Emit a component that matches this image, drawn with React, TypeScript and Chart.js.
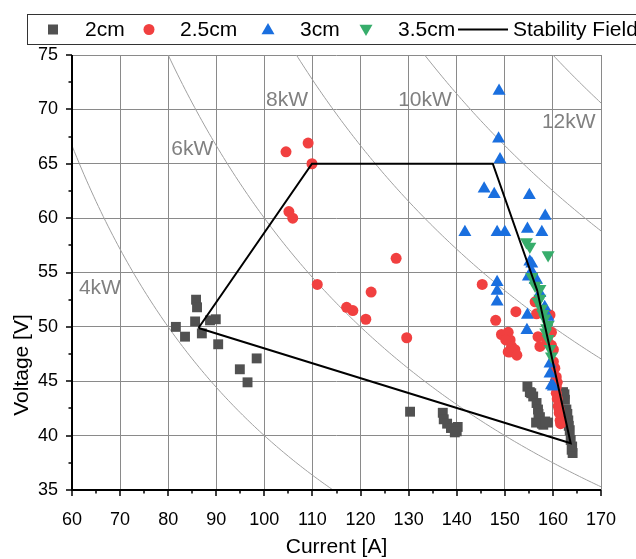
import React, { useEffect, useRef } from "react";
import { Chart, registerables } from "chart.js";
Chart.register(...registerables);

const FONT = "'Liberation Sans', Arial, Helvetica, sans-serif";

// 2cm (gray squares)
const cm2I = [85.8, 86.0, 85.6, 81.6, 83.5, 87.0, 88.7, 89.9, 90.4, 98.4, 94.9, 96.5,
  130.3, 137.1, 137.3, 138.0, 138.8, 139.6, 140.2, 140.0,
  154.7, 155.2, 155.9, 156.6, 156.9, 157.3, 157.7, 158.0, 156.5, 159.0, 155.5, 157.0, 158.4,
  162.1, 162.5, 162.8, 163.2, 163.5, 163.7, 163.9, 164.1, 162.4, 163.0, 163.3, 164.0];
const cm2V = [52.5, 51.8, 50.5, 50.0, 49.1, 49.4, 50.6, 50.7, 48.4, 47.1, 46.1, 44.9,
  42.2, 42.1, 41.5, 41.1, 40.7, 40.3, 40.8, 40.4,
  44.5, 44.0, 43.6, 43.0, 42.4, 41.7, 41.1, 41.0, 41.2, 41.2, 43.9, 42.0, 41.3,
  44.0, 43.3, 42.4, 41.4, 40.5, 39.6, 38.7, 38.4, 43.8, 42.0, 40.9, 39.0];

// 2.5cm (red circles)
const cm25I = [104.5, 109.1, 109.9, 105.1, 105.9, 111.0, 127.4, 122.2, 117.1, 118.4, 121.1, 129.6,
  145.3, 148.1, 149.3, 150.7, 152.3, 150.7, 151.1, 151.4, 151.1, 152.1, 152.5, 150.2,
  156.3, 156.6, 156.9, 157.3, 158.7, 160.1, 159.4, 159.7, 159.7, 160.1, 160.7, 160.7, 160.7,
  161.1, 161.5, 161.6, 160.9, 161.3, 160.4, 160.9, 161.3, 160.5];
const cm25V = [66.1, 66.9, 65.0, 60.6, 60.0, 53.9, 56.3, 53.2, 51.8, 51.5, 50.7, 49.0,
  53.9, 50.6, 49.3, 47.7, 51.4, 49.5, 48.8, 48.2, 47.7, 47.9, 47.4, 48.8,
  52.3, 51.2, 49.1, 48.2, 48.8, 47.9, 51.1, 49.5, 48.3, 46.8, 45.4, 44.5, 43.9,
  42.7, 41.4, 41.1, 44.9, 42.1, 46.2, 43.4, 42.4, 45.0];

// 3cm (blue triangles)
const cm3I = [148.8, 148.7, 149.0, 145.7, 147.8, 155.1, 158.4, 141.7, 148.4, 150.0, 154.7, 157.7,
  155.2, 155.6, 156.3, 154.9, 148.4, 148.4, 148.4, 154.7, 154.6, 155.6, 156.6, 157.3, 158.3,
  159.0, 159.4, 159.4, 160.1, 159.7];
const cm3V = [71.7, 67.3, 65.4, 62.7, 62.2, 62.1, 60.2, 58.7, 58.7, 58.7, 59.0, 58.7,
  56.0, 55.1, 54.3, 54.6, 54.1, 53.3, 52.3, 51.1, 49.7, 55.8, 54.3, 53.1, 51.8,
  50.9, 46.6, 45.7, 44.5, 44.6];

// 3.5cm (green down triangles)
const cm35I = [154.5, 155.2, 159.0, 155.6, 157.3, 157.3, 157.6, 158.3, 158.7, 159.0, 159.4, 159.7,
  156.9, 157.9, 159.0, 156.3, 158.5];
const cm35V = [57.8, 57.4, 56.6, 54.6, 53.5, 52.6, 51.7, 50.8, 49.9, 48.9, 48.0, 47.3,
  52.3, 51.2, 50.2, 53.8, 49.5];

// Stability field polygon
const stabI = [86.3, 109.9, 147.5, 156.7, 163.7, 86.3];
const stabV = [49.9, 65.0, 65.0, 53.4, 39.3, 49.9];

// Iso-power curves
const powerKW = [4, 6, 8, 10, 12];
const powerLabels = ["4kW", "6kW", "8kW", "10kW", "12kW"];
const powerLabelI = [65.8, 85.0, 104.7, 133.4, 163.3];
const powerLabelV = [53.6, 66.3, 70.8, 70.8, 68.8];

const legendLabels = ["2cm", "2.5cm", "3cm", "3.5cm", "Stability Field"];
const COLORS = ["#515151", "#F14040", "#1A6FDF", "#37AD6B"];

const pts = (xs: number[], ys: number[]) => xs.map((x, i) => ({ x, y: ys[i] }));

const powerCurve = (kw: number) => {
  const out: { x: number; y: number }[] = [];
  for (let i = 50; i <= 175; i += 0.5) out.push({ x: i, y: (kw * 1000) / i });
  return out;
};

const decor = {
  id: "decor",
  afterDraw(chart: any) {
    const { ctx, chartArea: a, scales } = chart;
    const x = scales.x, y = scales.y;
    ctx.save();
    // power labels
    ctx.fillStyle = "#808080";
    ctx.font = `21px ${FONT}`;
    ctx.textAlign = "center";
    ctx.textBaseline = "middle";
    powerLabels.forEach((t, i) =>
      ctx.fillText(t, x.getPixelForValue(powerLabelI[i]), y.getPixelForValue(powerLabelV[i]))
    );
    // axes lines
    ctx.strokeStyle = "#000";
    ctx.lineWidth = 2;
    ctx.beginPath();
    ctx.moveTo(a.left, a.top);
    ctx.lineTo(a.left, a.bottom);
    ctx.lineTo(a.right, a.bottom);
    ctx.stroke();
    // tick marks
    ctx.lineWidth = 1.5;
    ctx.beginPath();
    for (let v = 60; v <= 170; v += 5) {
      const px = Math.round(x.getPixelForValue(v));
      const len = v % 10 === 0 ? 6 : 3.5;
      ctx.moveTo(px, a.bottom);
      ctx.lineTo(px, a.bottom + len);
    }
    for (let v = 35; v <= 75; v += 2.5) {
      const py = Math.round(y.getPixelForValue(v));
      const len = v % 5 === 0 ? 6 : 3.5;
      ctx.moveTo(a.left, py);
      ctx.lineTo(a.left - len, py);
    }
    ctx.stroke();
    // axis titles
    ctx.fillStyle = "#000";
    ctx.font = `21px ${FONT}`;
    ctx.textAlign = "center";
    ctx.textBaseline = "middle";
    ctx.fillText("Current [A]", (a.left + a.right) / 2, 547);
    ctx.save();
    ctx.translate(22, 365);
    ctx.rotate(-Math.PI / 2);
    ctx.fillText("Voltage [V]", 0, 0);
    ctx.restore();
    // legend
    ctx.fillStyle = "#fff";
    ctx.fillRect(27.5, 14.5, 620, 30);
    ctx.strokeStyle = "#333";
    ctx.lineWidth = 1;
    ctx.strokeRect(27.5, 14.5, 620, 30);
    const ly = 29.5;
    ctx.fillStyle = COLORS[0];
    ctx.fillRect(48, ly - 5, 10, 10);
    ctx.fillStyle = COLORS[1];
    ctx.beginPath();
    ctx.arc(149, ly, 5.5, 0, Math.PI * 2);
    ctx.fill();
    const tri = (cx: number, cy: number, r: number, down: boolean, col: string) => {
      const s = down ? -1 : 1;
      ctx.fillStyle = col;
      ctx.beginPath();
      ctx.moveTo(cx, cy - s * r);
      ctx.lineTo(cx - r * 0.866, cy + s * r * 0.5);
      ctx.lineTo(cx + r * 0.866, cy + s * r * 0.5);
      ctx.closePath();
      ctx.fill();
    };
    tri(268, ly + 1, 7.5, false, COLORS[2]);
    tri(366, ly - 1, 7.5, true, COLORS[3]);
    ctx.strokeStyle = "#000";
    ctx.lineWidth = 2;
    ctx.beginPath();
    ctx.moveTo(458, ly);
    ctx.lineTo(508, ly);
    ctx.stroke();
    ctx.fillStyle = "#000";
    ctx.textAlign = "left";
    ctx.font = `21px ${FONT}`;
    const lx = [85, 180, 300, 398, 513];
    legendLabels.forEach((t, i) => ctx.fillText(t, lx[i], ly + 1));
    ctx.restore();
  },
};

export default function App() {
  const ref = useRef<HTMLCanvasElement | null>(null);
  useEffect(() => {
    document.body.style.margin = "0";
    if (!ref.current) return;
    const scatterDs = (label: string, xs: number[], ys: number[], col: string, style: any, r: number, order: number, rot = 0) => ({
      type: "scatter" as const,
      label,
      data: pts(xs, ys),
      backgroundColor: col,
      borderColor: col,
      borderWidth: 0,
      pointStyle: style,
      pointRadius: r,
      pointRotation: rot,
      order,
    });
    const datasets: any[] = [
      ...powerKW.map((kw) => ({
        type: "line" as const,
        label: `${kw}kW`,
        data: powerCurve(kw),
        borderColor: "#a0a0a0",
        borderWidth: 1,
        pointRadius: 0,
        fill: false,
        order: 6,
      })),
      scatterDs("2cm", cm2I, cm2V, COLORS[0], "rect", 7, 5),
      scatterDs("2.5cm", cm25I, cm25V, COLORS[1], "circle", 5.5, 4),
      scatterDs("3cm", cm3I, cm3V, COLORS[2], "triangle", 7.5, 3),
      scatterDs("3.5cm", cm35I, cm35V, COLORS[3], "triangle", 7.5, 2, 180),
      {
        type: "line" as const,
        label: "Stability Field",
        data: pts(stabI, stabV),
        borderColor: "#000",
        borderWidth: 2,
        pointRadius: 0,
        fill: false,
        order: 1,
      },
    ];
    const chart = new Chart(ref.current, {
      type: "scatter",
      data: { datasets },
      options: {
        responsive: false,
        animation: false,
        layout: { padding: { top: 55, right: 35, left: 0, bottom: 0 } },
        plugins: { legend: { display: false }, tooltip: { enabled: false } },
        scales: {
          x: {
            type: "linear",
            min: 60,
            max: 170,
            ticks: { stepSize: 10, padding: 19, color: "#000", font: { family: FONT, size: 18 } },
            grid: { color: "#8a8a8a", lineWidth: 1, drawTicks: false },
            border: { display: false },
            afterFit: (s: any) => { s.height = 69; },
          },
          y: {
            type: "linear",
            min: 35,
            max: 75,
            ticks: { stepSize: 5, padding: 14, color: "#000", font: { family: FONT, size: 18 } },
            grid: { color: "#8a8a8a", lineWidth: 1, drawTicks: false },
            border: { display: false },
            afterFit: (s: any) => { s.width = 72; },
          },
        },
      },
      plugins: [decor],
    });
    return () => chart.destroy();
  }, []);
  return <canvas ref={ref} width={636} height={559} style={{ display: "block" }} />;
}
